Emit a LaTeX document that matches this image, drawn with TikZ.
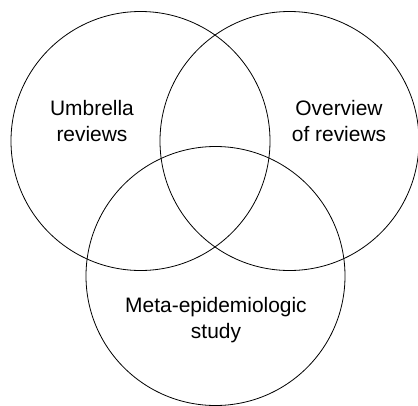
\documentclass[tikz,border=0pt]{standalone}
\usepackage{fontspec}
\setmainfont{Liberation Sans}
\usepackage{tikz}
\usetikzlibrary{positioning,calc}

\begin{document}
\begin{tikzpicture}[
  x=0.75pt, y=0.75pt,
  every node/.style={font=\fontsize{15.7}{19.5}\selectfont},
  set/.style ={draw, circle, line width=0.6pt, minimum size=259*0.75pt,
               inner sep=0pt},
  lbl/.style ={align=center, inner sep=0pt}
]
\useasboundingbox (0,0) rectangle (418,405);

% Sets
\node[set] (umb)  at (140.5,264) {};
\node[set] (ovr)  at (289.5,264) {};
\node[set] (meta) at (215.5,129) {};

% Labels
\node[lbl] (umbtxt)  at ($(umb)+(-48.5,20)$)  {Umbrella\\reviews};
\node[lbl] (ovrtxt)  at ($(ovr)+(49.5,20)$)   {Overview\\of reviews};
\node[lbl] (metatxt) at ($(meta)+(0.5,-44)$)  {Meta-epidemiologic\\study};

\end{tikzpicture}
\end{document}
